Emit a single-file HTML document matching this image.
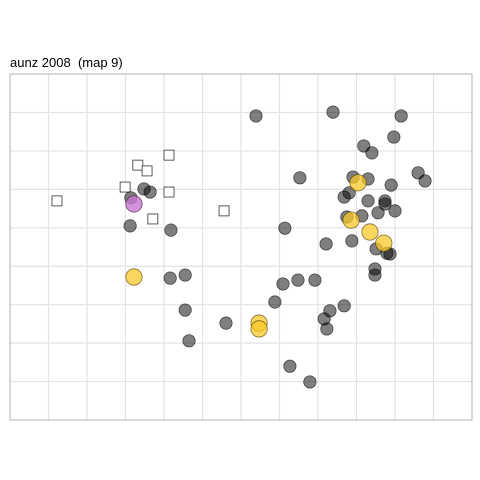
<!DOCTYPE html>
<html><head><meta charset="utf-8"><style>
body{margin:0;background:#fff;}
svg{display:block;font-family:"Liberation Sans",sans-serif;}
</style></head><body>
<svg id="chart" width="480" height="480">
<text x="10" y="67" font-size="13" fill="#000" style="white-space:pre" xml:space="preserve">aunz 2008  (map 9)</text>
<g id="grid"></g>
<g id="marks"></g>
<rect x="10" y="74" width="462" height="346" fill="none" stroke="#b3b3b3" stroke-width="1"/>
</svg>
<script>
const grayX=[6.39,8.39,10.16,9.97,9.19,9.40,7.53,10.60,10.78,8.91,9.30,9.90,8.68,8.81,9.30,9.74,9.74,10.00,9.56,8.75,9.14,7.14,8.21,8.88,9.51,9.79,9.87,9.48,9.48,4.16,4.55,7.09,7.48,7.92,6.88,4.55,8.31,8.68,8.16,8.23,5.61,4.65,7.27,7.79,3.48,3.64,3.14,3.12,4.18];
const grayY=[7.91,8.01,7.91,7.36,7.13,6.95,6.30,6.43,6.22,6.32,6.27,6.11,5.80,5.91,5.70,5.70,5.62,5.44,5.39,5.28,5.31,4.99,4.58,4.66,4.45,4.34,4.32,3.93,3.77,3.69,3.77,3.54,3.64,3.64,3.07,2.86,2.84,2.97,2.63,2.37,2.52,2.06,1.40,0.99,6.01,5.93,5.78,5.05,4.94];
const yellowX=[9.04,8.86,9.35,9.71,3.22,6.47,6.47];
const yellowY=[6.17,5.20,4.89,4.60,3.72,2.52,2.37];
const purpleX=[3.22];
const purpleY=[5.62];
const squareX=[4.13,3.32,3.56,2.99,4.13,1.22,3.71,5.56];
const squareY=[6.89,6.63,6.48,6.06,5.93,5.70,5.23,5.44];
const xTicks=[1,2,3,4,5,6,7,8,9,10,11];
const yTicks=[1,2,3,4,5,6,7,8];

const NS="http://www.w3.org/2000/svg";
const sx=v=>10+v*38.5;
const sy=v=>420-v*38.44;
const grid=document.getElementById('grid');
const marks=document.getElementById('marks');
function mk(tag,attrs,parent){const e=document.createElementNS(NS,tag);for(const k in attrs)e.setAttribute(k,attrs[k]);parent.appendChild(e);return e;}
xTicks.forEach(t=>{const l=mk('line',{x1:sx(t),x2:sx(t),y1:74,y2:420,stroke:'#e3e3e3','stroke-width':1.2},grid);

});
yTicks.forEach(t=>{const l=mk('line',{x1:10,x2:472,y1:sy(t),y2:sy(t),stroke:'#e3e3e3','stroke-width':1.2},grid);

});
squareX.forEach((x,i)=>{const r=mk('rect',{x:sx(x)-5,y:sy(squareY[i])-5,width:10,height:10,fill:'#fff',stroke:'#333','stroke-width':0.8},marks);

});
grayX.forEach((x,i)=>{const c=mk('circle',{cx:sx(x),cy:sy(grayY[i]),r:6.2,fill:'rgba(0,0,0,0.5)',stroke:'rgba(0,0,0,0.6)','stroke-width':0.8},marks);

});
purpleX.forEach((x,i)=>{const c=mk('circle',{cx:sx(x),cy:sy(purpleY[i]),r:8.2,fill:'rgba(200,120,210,0.8)',stroke:'rgba(60,20,60,0.7)','stroke-width':0.8},marks);

});
yellowX.forEach((x,i)=>{const c=mk('circle',{cx:sx(x),cy:sy(yellowY[i]),r:8.2,fill:'rgba(250,200,40,0.75)',stroke:'rgba(80,60,0,0.7)','stroke-width':0.8},marks);

});
</script>
</body></html>
